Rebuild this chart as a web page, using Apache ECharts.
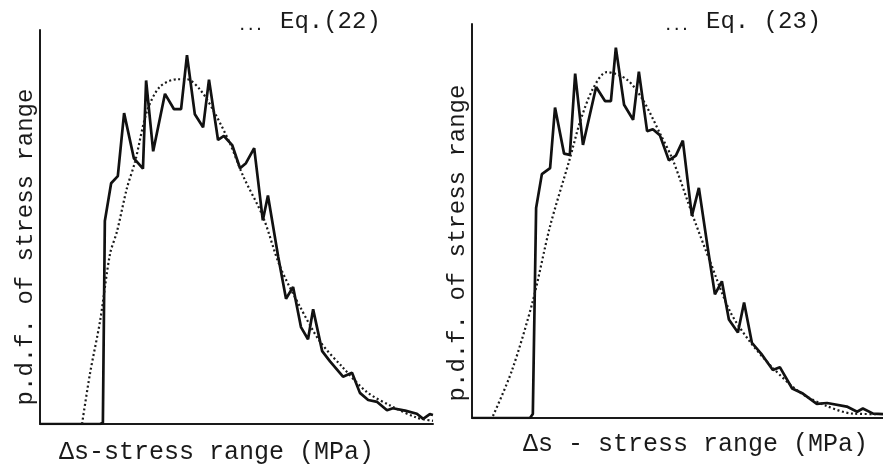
<!DOCTYPE html>
<html>
<head>
<meta charset="utf-8">
<script src="https://cdn.jsdelivr.net/npm/echarts@6/dist/echarts.min.js"></script>
<style>
  html, body { margin: 0; padding: 0; background: #fff; }
  #main { width: 883px; height: 470px; }
</style>
</head>
<body>
<div id="main"></div>
<script>
  // measured histogram pdf, Eq.(22) panel  [stress range, p.d.f.]
  var measured22 = [
    [0, 0], [15.3, 0], [16, 0.3], [16.5, 51.5], [18.1, 61.1], [19.8, 62.9], [21.4, 78.9],
    [23.9, 67.4], [26.2, 64.8], [27.0, 87.2], [28.8, 69.2], [31.8, 83.8], [34.1, 79.9],
    [35.9, 79.9], [37.4, 93.6], [39.4, 78.6], [41.5, 75.3], [43.0, 87.4], [45.3, 72.1],
    [46.8, 73.1], [48.9, 70.8], [50.9, 64.9], [52.4, 66.2], [54.5, 70.0], [56.7, 51.7],
    [58.0, 58.0], [60.6, 42.5], [62.6, 31.8], [64.4, 34.8], [66.4, 24.6], [68.2, 21.5],
    [69.5, 29.1], [71.8, 18.5], [73.8, 15.9], [77.1, 12.0], [79.4, 13.0], [81.4, 7.9],
    [83.5, 6.1], [85.8, 5.6], [88.3, 3.5], [89.8, 4.0], [92.9, 3.4], [95.9, 2.6],
    [97.5, 1.3], [99.2, 2.5], [100, 2.3]
  ];
  // fitted curve Eq.(22)
  var fitted22 = [
    [10.7, 0], [12.7, 12.7], [15.3, 26.2], [17.8, 43.1], [19.6, 48.9], [22.1, 59.8],
    [24.2, 66.6], [27.2, 79.3], [30.5, 85.6], [34.9, 87.5], [37.4, 87.5], [40.7, 84.9],
    [44.0, 79.8], [48.3, 71.3], [51.7, 62.9], [56.7, 52.7], [61.1, 39.9], [66.2, 29.7],
    [71.2, 21.0], [77.1, 14.3], [83.2, 8.1], [89.1, 4.7], [95.9, 1.6], [100, 0.8]
  ];
  // measured histogram pdf, Eq.(23) panel
  var measured23 = [
    [0, 0], [14.1, 0], [14.8, 1.0], [15.6, 53.3], [17.0, 61.9], [19.0, 63.4], [20.2, 78.8],
    [22.4, 67.1], [23.8, 66.8], [25.1, 87.4], [27.0, 69.3], [30.2, 84.0], [32.4, 80.4],
    [33.8, 80.4], [35.0, 94.0], [37.0, 79.5], [39.2, 75.7], [40.6, 87.9], [42.6, 72.8],
    [44.0, 73.3], [45.7, 71.8], [47.9, 65.4], [49.6, 66.6], [51.3, 70.4], [53.5, 51.3],
    [55.2, 58.4], [57.4, 42.9], [59.1, 31.4], [60.8, 34.7], [62.5, 25.0], [64.7, 21.7],
    [66.2, 29.3], [68.1, 19.1], [70.6, 16.0], [73.2, 12.2], [74.9, 12.9], [77.9, 7.5],
    [80.5, 6.2], [83.9, 3.6], [86.4, 3.8], [91.2, 2.9], [93.7, 1.6], [95.1, 2.4],
    [97.6, 1.1], [100, 1.0]
  ];
  // fitted curve Eq.(23)
  var fitted23 = [
    [5.1, 0.5], [9.7, 12.0], [14.8, 29.7], [19.0, 48.7], [23.8, 65.8], [26.3, 75.2],
    [29.4, 83.5], [32.8, 87.8], [37.7, 85.9], [41.6, 80.7], [45.7, 72.3], [48.9, 65.4],
    [53.8, 51.1], [57.9, 39.8], [62.8, 27.0], [67.6, 19.4], [73.2, 12.7], [79.8, 6.5],
    [86.4, 3.0], [92.7, 1.1], [98.5, 1.0]
  ];

  var xName22 = 'Δs-stress range (MPa)';
  var xName23 = 'Δs - stress range (MPa)';
  var yName = 'p.d.f. of stress range';

  var font = "'Courier New', 'Liberation Mono', monospace";
  var ink = '#1a1a1a';

  function xAxisOf(i, name, pad, gap) {
    return {
      type: 'value', gridIndex: i, min: 0, max: 100,
      name: name, nameLocation: 'middle', nameGap: gap,
      nameTextStyle: { fontFamily: font, fontSize: 25, color: ink, padding: pad },
      axisLine: { lineStyle: { color: ink, width: 2 } },
      axisTick: { show: false }, axisLabel: { show: false }, splitLine: { show: false }
    };
  }
  function yAxisOf(i, pad, gap) {
    return {
      type: 'value', gridIndex: i, min: 0, max: 100,
      name: yName, nameLocation: 'middle', nameGap: gap,
      nameTextStyle: { fontFamily: font, fontSize: 24, color: ink, padding: pad },
      axisLine: { show: true, lineStyle: { color: ink, width: 2 } },
      axisTick: { show: false }, axisLabel: { show: false }, splitLine: { show: false }
    };
  }
  function solid(i, data) {
    return {
      type: 'line', xAxisIndex: i, yAxisIndex: i, data: data,
      symbol: 'none', lineStyle: { color: '#111', width: 2.7 }
    };
  }
  function dots(i, data) {
    return {
      type: 'line', xAxisIndex: i, yAxisIndex: i, data: data, smooth: 0.3,
      symbol: 'none', lineStyle: { color: '#1a1a1a', width: 2.2, type: [2, 2.6] }
    };
  }
  // 标题: small leader dots then the equation number
  function eqTitle(text, left) {
    return {
      text: '{d|...}{s| }' + text, left: left, top: 3,
      textStyle: {
        fontFamily: font, fontSize: 24, fontWeight: 'normal', color: ink,
        rich: {
          d: { fontFamily: font, fontSize: 14, fontWeight: 'bold', color: ink, verticalAlign: 'bottom', padding: [0, 0, 3, 0] },
          s: { fontFamily: font, fontSize: 28 }
        }
      }
    };
  }

  var myChart = echarts.init(document.getElementById('main'));
  myChart.setOption({
    backgroundColor: '#fff',
    animation: false,
    title: [eqTitle('Eq.(22)', 233), eqTitle('Eq. (23)', 659)],
    grid: [
      { left: 40, top: 30, width: 393, height: 394 },
      { left: 472, top: 24, width: 411, height: 394 }
    ],
    xAxis: [xAxisOf(0, xName22, [0, 40, 0, 0], 16), xAxisOf(1, xName23, [0, 0, 0, 36], 14)],
    yAxis: [yAxisOf(0, [0, 40, 0, 0], 2), yAxisOf(1, [0, 44, 0, 0], 2)],
    series: [solid(0, measured22), dots(0, fitted22), solid(1, measured23), dots(1, fitted23)]
  });
</script>
</body>
</html>
